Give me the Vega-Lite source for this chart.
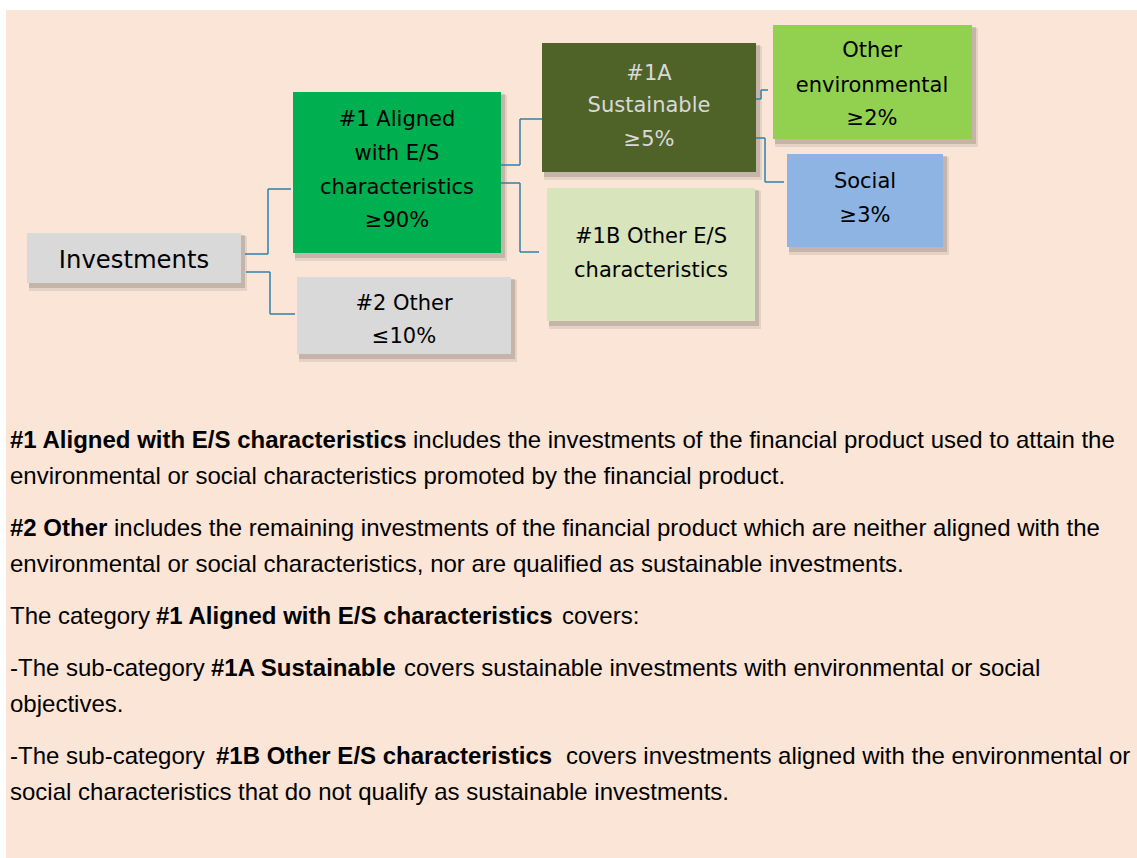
{
  "$schema": "https://vega.github.io/schema/vega-lite/v6.json",
  "width": 1137,
  "height": 858,
  "autosize": {"type": "fit", "contains": "padding"},
  "padding": 0,
  "background": "#ffffff",
  "config": {"view": {"stroke": null}},
  "datasets": {
    "panel": [{"x1": 6, "x2": 1137, "y1": 10, "y2": 858}],
    "boxes": [
      {"node": "Investments", "x1": 27, "x2": 241, "y1": 233, "y2": 283},
      {"node": "#1 Aligned", "x1": 293, "x2": 501, "y1": 92, "y2": 253},
      {"node": "#2 Other", "x1": 297, "x2": 511, "y1": 277, "y2": 354},
      {"node": "#1A Sustainable", "x1": 542, "x2": 756, "y1": 43, "y2": 172},
      {"node": "#1B Other E/S", "x1": 547, "x2": 755, "y1": 188, "y2": 321},
      {"node": "Other environmental", "x1": 773, "x2": 972, "y1": 25, "y2": 139},
      {"node": "Social", "x1": 787, "x2": 943, "y1": 154, "y2": 247}
    ],
    "links": [
      {"x1": 245, "y1": 254, "x2": 268, "y2": 254},
      {"x1": 268, "y1": 254, "x2": 268, "y2": 189},
      {"x1": 268, "y1": 189, "x2": 291, "y2": 189},
      {"x1": 246, "y1": 272, "x2": 270, "y2": 272},
      {"x1": 270, "y1": 272, "x2": 270, "y2": 314},
      {"x1": 270, "y1": 314, "x2": 295, "y2": 314},
      {"x1": 501, "y1": 165, "x2": 520, "y2": 165},
      {"x1": 520, "y1": 165, "x2": 520, "y2": 119},
      {"x1": 520, "y1": 119, "x2": 542, "y2": 119},
      {"x1": 501, "y1": 183, "x2": 520, "y2": 183},
      {"x1": 520, "y1": 183, "x2": 520, "y2": 252},
      {"x1": 520, "y1": 252, "x2": 539, "y2": 252},
      {"x1": 756, "y1": 99, "x2": 761, "y2": 99},
      {"x1": 761, "y1": 99, "x2": 761, "y2": 90},
      {"x1": 761, "y1": 90, "x2": 768, "y2": 90},
      {"x1": 756, "y1": 138, "x2": 765, "y2": 138},
      {"x1": 765, "y1": 138, "x2": 765, "y2": 182},
      {"x1": 765, "y1": 182, "x2": 784, "y2": 182}
    ],
    "boxtext": [
      {"node": "Investments", "x": 134, "y": 259, "text": "Investments", "big": "yes"},
      {"node": "#1 Aligned", "x": 397, "y": 118, "text": "#1 Aligned", "big": "no"},
      {"node": "#1 Aligned", "x": 397, "y": 152, "text": "with E/S", "big": "no"},
      {"node": "#1 Aligned", "x": 397, "y": 186, "text": "characteristics", "big": "no"},
      {"node": "#1 Aligned", "x": 397, "y": 219, "text": "≥90%", "big": "no"},
      {"node": "#2 Other", "x": 404, "y": 302, "text": "#2 Other", "big": "no"},
      {"node": "#2 Other", "x": 404, "y": 335, "text": "≤10%", "big": "no"},
      {"node": "#1A Sustainable", "x": 649, "y": 72, "text": "#1A", "big": "no"},
      {"node": "#1A Sustainable", "x": 649, "y": 104, "text": "Sustainable", "big": "no"},
      {"node": "#1A Sustainable", "x": 649, "y": 138, "text": "≥5%", "big": "no"},
      {"node": "#1B Other E/S", "x": 651, "y": 235, "text": "#1B Other E/S", "big": "no"},
      {"node": "#1B Other E/S", "x": 651, "y": 269, "text": "characteristics", "big": "no"},
      {"node": "Other environmental", "x": 872, "y": 49, "text": "Other", "big": "no"},
      {"node": "Other environmental", "x": 872, "y": 84, "text": "environmental", "big": "no"},
      {"node": "Other environmental", "x": 872, "y": 117, "text": "≥2%", "big": "no"},
      {"node": "Social", "x": 865, "y": 180, "text": "Social", "big": "no"},
      {"node": "Social", "x": 865, "y": 214, "text": "≥3%", "big": "no"}
    ],
    "para": [
      {"x": 10, "y": 448, "text": "#1 Aligned with E/S characteristics", "bold": "yes"},
      {"x": 413, "y": 448, "text": "includes the investments of the financial product used to attain the", "bold": "no"},
      {"x": 10, "y": 484, "text": "environmental or social characteristics promoted by the financial product.", "bold": "no"},
      {"x": 10, "y": 536, "text": "#2 Other", "bold": "yes"},
      {"x": 114, "y": 536, "text": "includes the remaining investments of the financial product which are neither aligned with the", "bold": "no"},
      {"x": 10, "y": 572, "text": "environmental or social characteristics, nor are qualified as sustainable investments.", "bold": "no"},
      {"x": 10, "y": 624, "text": "The category", "bold": "no"},
      {"x": 156, "y": 624, "text": "#1 Aligned with E/S characteristics", "bold": "yes"},
      {"x": 562, "y": 624, "text": "covers:", "bold": "no"},
      {"x": 10, "y": 676, "text": "-The sub-category", "bold": "no"},
      {"x": 211, "y": 676, "text": "#1A Sustainable", "bold": "yes"},
      {"x": 404, "y": 676, "text": "covers sustainable investments with environmental or social", "bold": "no"},
      {"x": 10, "y": 712, "text": "objectives.", "bold": "no"},
      {"x": 10, "y": 764, "text": "-The sub-category", "bold": "no"},
      {"x": 216, "y": 764, "text": "#1B Other E/S characteristics", "bold": "yes"},
      {"x": 566, "y": 764, "text": "covers investments aligned with the environmental or", "bold": "no"},
      {"x": 10, "y": 800, "text": "social characteristics that do not qualify as sustainable investments.", "bold": "no"}
    ]
  },
  "layer": [
    {
      "data": {"name": "panel"},
      "mark": {"type": "rect", "fill": "#FBE5D6"},
      "encoding": {
        "x": {"field": "x1", "type": "quantitative", "scale": {"domain": [0, 1137], "nice": false, "zero": false}, "axis": null},
        "x2": {"field": "x2"},
        "y": {"field": "y1", "type": "quantitative", "scale": {"domain": [0, 858], "nice": false, "zero": false, "reverse": true}, "axis": null},
        "y2": {"field": "y2"}
      }
    },
    {
      "data": {"name": "boxes"},
      "mark": {"type": "rect", "fill": "#8a7f78", "opacity": 0.18, "xOffset": 2, "x2Offset": 6, "yOffset": 3, "y2Offset": 8},
      "encoding": {
        "x": {"field": "x1", "type": "quantitative", "axis": null},
        "x2": {"field": "x2"},
        "y": {"field": "y1", "type": "quantitative", "axis": null},
        "y2": {"field": "y2"}
      }
    },
    {
      "data": {"name": "boxes"},
      "mark": {"type": "rect", "fill": "#7a706a", "opacity": 0.3, "xOffset": 2, "x2Offset": 4, "yOffset": 2, "y2Offset": 5},
      "encoding": {
        "x": {"field": "x1", "type": "quantitative", "axis": null},
        "x2": {"field": "x2"},
        "y": {"field": "y1", "type": "quantitative", "axis": null},
        "y2": {"field": "y2"}
      }
    },
    {
      "data": {"name": "links"},
      "mark": {"type": "rule", "color": "#2F7FA8", "strokeWidth": 1.5},
      "encoding": {
        "x": {"field": "x1", "type": "quantitative", "axis": null},
        "x2": {"field": "x2"},
        "y": {"field": "y1", "type": "quantitative", "axis": null},
        "y2": {"field": "y2"}
      }
    },
    {
      "data": {"name": "boxes"},
      "mark": {"type": "rect"},
      "encoding": {
        "x": {"field": "x1", "type": "quantitative", "axis": null},
        "x2": {"field": "x2"},
        "y": {"field": "y1", "type": "quantitative", "axis": null},
        "y2": {"field": "y2"},
        "fill": {
          "field": "node", "type": "nominal", "legend": null,
          "scale": {
            "domain": ["Investments", "#1 Aligned", "#2 Other", "#1A Sustainable", "#1B Other E/S", "Other environmental", "Social"],
            "range": ["#D9D9D9", "#00B050", "#D9D9D9", "#4F6228", "#D8E4BC", "#92D050", "#8DB4E2"]
          }
        }
      }
    },
    {
      "data": {"name": "boxtext"},
      "transform": [{"filter": "datum.big === 'no'"}],
      "mark": {"type": "text", "font": "DejaVu Sans", "fontSize": 21, "align": "center", "baseline": "middle", "dy": 2},
      "encoding": {
        "x": {"field": "x", "type": "quantitative", "axis": null},
        "y": {"field": "y", "type": "quantitative", "axis": null},
        "text": {"field": "text"},
        "color": {
          "field": "node", "type": "nominal", "legend": null,
          "scale": {
            "domain": ["Investments", "#1 Aligned", "#2 Other", "#1A Sustainable", "#1B Other E/S", "Other environmental", "Social"],
            "range": ["#000000", "#000000", "#000000", "#D9D9D9", "#000000", "#000000", "#000000"]
          }
        }
      }
    },
    {
      "data": {"name": "boxtext"},
      "transform": [{"filter": "datum.big === 'yes'"}],
      "mark": {"type": "text", "font": "DejaVu Sans", "fontSize": 24.3, "align": "center", "baseline": "middle", "dy": 2, "color": "#000000"},
      "encoding": {
        "x": {"field": "x", "type": "quantitative", "axis": null},
        "y": {"field": "y", "type": "quantitative", "axis": null},
        "text": {"field": "text"}
      }
    },
    {
      "data": {"name": "para"},
      "transform": [{"filter": "datum.bold === 'no'"}],
      "mark": {"type": "text", "font": "Liberation Sans", "fontSize": 24, "align": "left", "baseline": "alphabetic", "color": "#000000"},
      "encoding": {
        "x": {"field": "x", "type": "quantitative", "axis": null},
        "y": {"field": "y", "type": "quantitative", "axis": null},
        "text": {"field": "text"}
      }
    },
    {
      "data": {"name": "para"},
      "transform": [{"filter": "datum.bold === 'yes'"}],
      "mark": {"type": "text", "font": "Liberation Sans", "fontSize": 24, "fontWeight": "bold", "align": "left", "baseline": "alphabetic", "color": "#000000"},
      "encoding": {
        "x": {"field": "x", "type": "quantitative", "axis": null},
        "y": {"field": "y", "type": "quantitative", "axis": null},
        "text": {"field": "text"}
      }
    }
  ]
}
